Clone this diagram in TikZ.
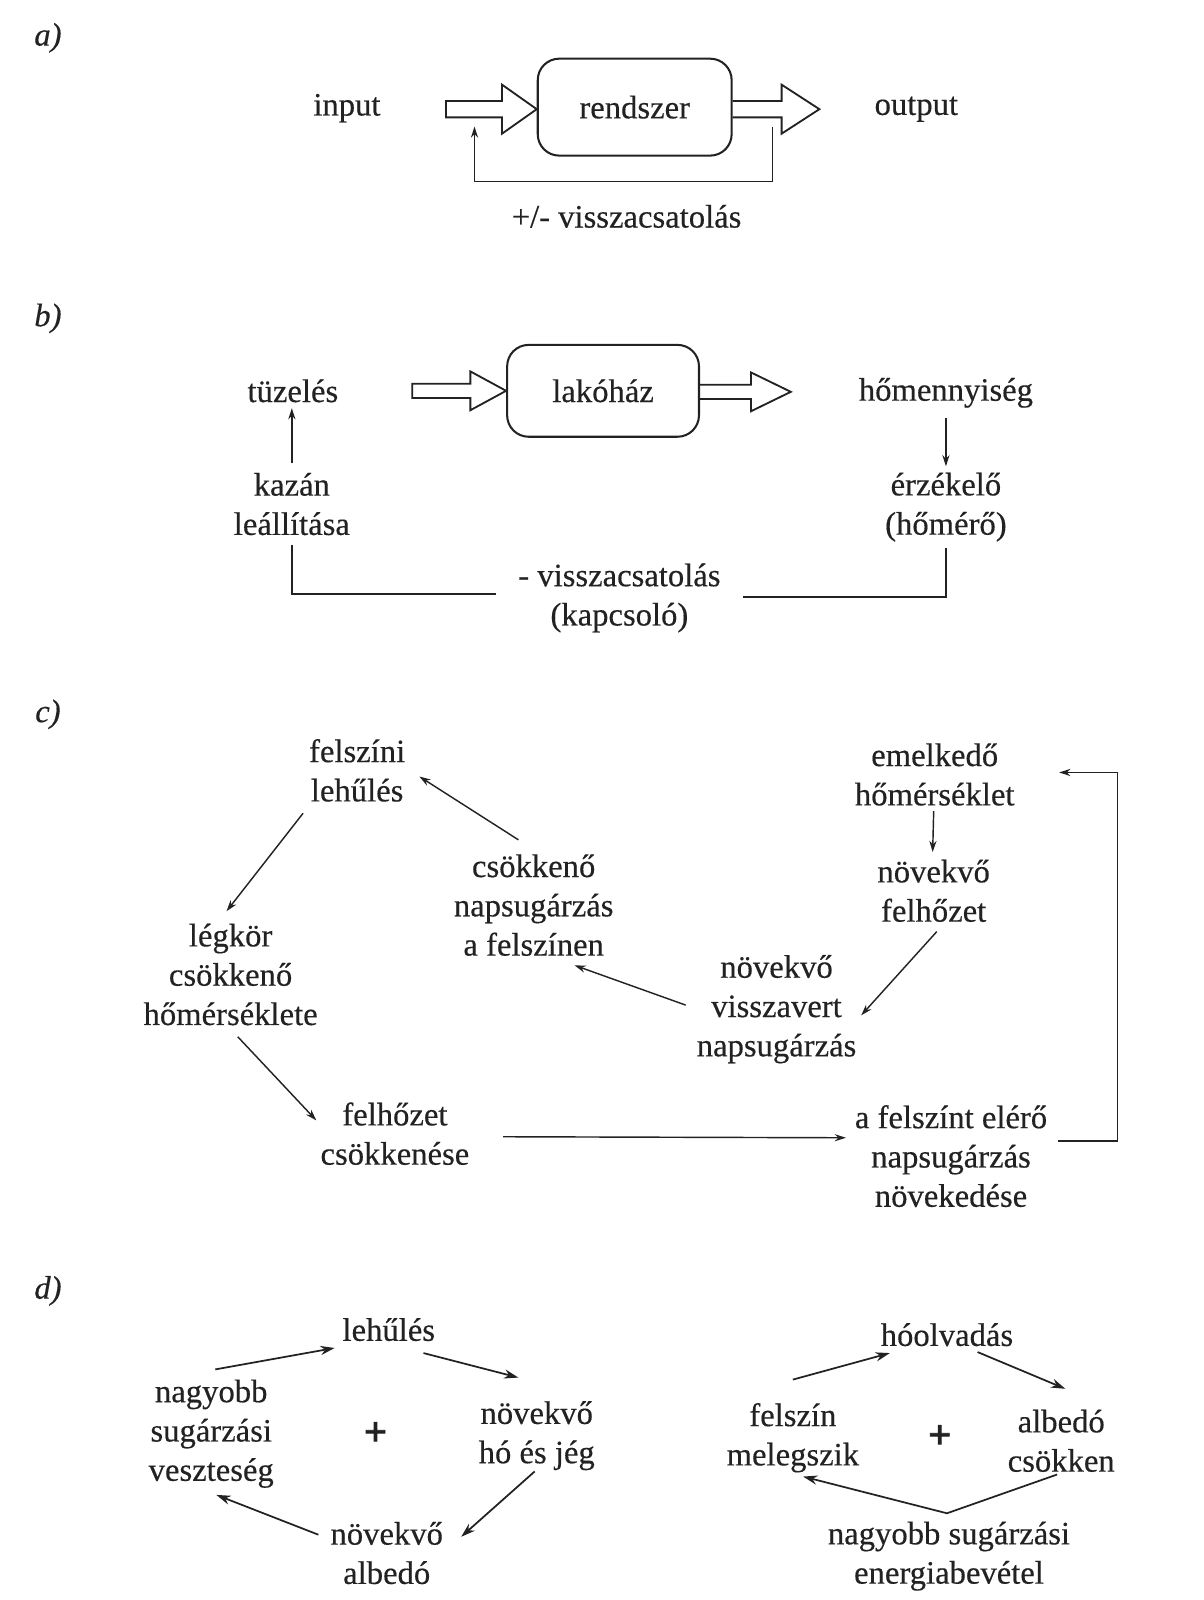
\documentclass[tikz,border=0pt]{standalone}
\usepackage{fontspec}
\setmainfont{Liberation Serif}[FakeBold=0.35]
\newfontfamily\plusfont{Liberation Serif Bold}[FakeBold=2]
\usetikzlibrary{arrows.meta}
\definecolor{ink}{HTML}{222222}
\newcommand{\fsz}{\fontsize{32}{38.5}\selectfont}
\begin{document}
\begin{tikzpicture}[x=1pt,y=-1pt,
  txt/.style={align=center,font=\fsz,inner sep=0pt,text=ink},
  lbl/.style={font=\fsz\itshape,inner sep=0pt,text=ink},
  plus/.style={font=\fontsize{40}{40}\plusfont,inner sep=0pt,text=ink},
  sysbox/.style={draw=ink,line width=2pt,rounded corners=21pt,inner sep=0pt},
  fat/.style={draw=ink,line width=1.8pt,line join=miter},
  arr/.style={draw=ink,line width=1.4pt,-{Stealth[length=11pt,width=7pt]}},
  arrd/.style={draw=ink,line width=1.7pt,-{Stealth[length=14pt,width=9pt]}},
  ln/.style={draw=ink,line width=1.4pt}]
\fill[white] (0,0) rectangle (1179,1568);
\useasboundingbox (0,0) rectangle (1179,1568);
% ---------------- a)
\node[lbl] (la) at (47,37) {a)};
\node[txt] (inp) at (340,106) {input};
\node[sysbox,minimum width=190pt,minimum height=95pt] (rend) at (622,105) {};
\node[txt] (rendt) at (rend.center) {rendszer};
\node[txt] (outp) at (898,107) {output};
\node[txt] (fba) at (614,212) {+/- visszacsatolás};
\draw[fat] (437,99) -- (492,99) -- (492,83) -- (rend.west |- 0,107) -- (492,131) -- (492,115) -- (437,115) -- cycle;
\draw[fat] (rend.east |- 0,99) -- (766,99) -- (766,83) -- (803,107) -- (766,131) -- (766,115) -- (rend.east |- 0,115);
\coordinate (fbR) at (757,124);
\coordinate (fbL) at (465,124);
\draw[arr] (fbR) -- ++(0,54) -| (fbL);
% ---------------- b)
\node[lbl] (lb) at (47,312) {b)};
\node[txt] (tuz) at (287,383) {tüzelés};
\node[sysbox,minimum width=188pt,minimum height=90pt] (lak) at (591,383) {};
\node[txt] (lakt) at (lak.center) {lakóház};
\node[txt] (hom) at (927,385) {hőmennyiség};
\node[txt] (erz) at (927,497) {érzékelő\\(hőmérő)};
\node[txt] (kaz) at (286,494) {kazán\\leállítása};
\node[txt] (fbb) at (607,586) {- visszacsatolás\\(kapcsoló)};
\draw[fat] (404,376) -- (461,376) -- (461,364) -- (lak.west) -- (461,402) -- (461,390) -- (404,390) -- cycle;
\draw[fat] (lak.east |- 0,377) -- (736,377) -- (736,365) -- (775,384) -- (736,403) -- (736,391) -- (lak.east |- 0,391);
\draw[arr] ([shift={(0,-40)}]kaz.center) -- ([shift={(-1,17)}]tuz.center);
\draw[arr] ([shift={(0,25)}]hom.center) -- ([shift={(0,-40)}]erz.center);
\draw[ln] ([shift={(0,40)}]kaz.center) -- ++(0,48) -- ([shift={(-121,-4)}]fbb.center);
\draw[ln] ([shift={(0,40)}]erz.center) -- ++(0,48) -- ([shift={(121,-1)}]fbb.center);
% ---------------- c)
\node[lbl] (lc) at (47,700) {c)};
\node[txt] (n1) at (350,755) {felszíni\\lehűlés};
\node[txt] (n2) at (226,955) {légkör\\csökkenő\\hőmérséklete};
\node[txt] (n3) at (387,1111) {felhőzet\\csökkenése};
\node[txt] (n4) at (932,1133) {a felszínt elérő\\napsugárzás\\növekedése};
\node[txt] (n5) at (916,759) {emelkedő\\hőmérséklet};
\node[txt] (n6) at (915,873) {növekvő\\felhőzet};
\node[txt] (n7) at (761,989) {növekvő\\visszavert\\napsugárzás};
\node[txt] (n8) at (523,887) {csökkenő\\napsugárzás\\a felszínen};
\draw[arr] ([shift={(-53,42)}]n1.center) -- ([shift={(-4,-62)}]n2.center);
\draw[arr] ([shift={(7,61)}]n2.center) -- ([shift={(-77,-13)}]n3.center);
\draw[arr] ([shift={(106,3)}]n3.center) -- ([shift={(-103,-18)}]n4.center);
\draw[arr] ([shift={(105,-15)}]n4.center) -- ++(58,0) |- ([shift={(122,-2)}]n5.center);
\draw[arr] ([shift={(-1,36)}]n5.center) -- ([shift={(-1,-38)}]n6.center);
\draw[arr] ([shift={(3,40)}]n6.center) -- ([shift={(83,6)}]n7.center);
\draw[arr] ([shift={(-89,-4)}]n7.center) -- ([shift={(40,59)}]n8.center);
\draw[arr] ([shift={(-15,-64)}]n8.center) -- ([shift={(61,6)}]n1.center);
% ---------------- d)
\node[lbl] (ld) at (47,1265) {d)};
\node[txt] (d1) at (381,1303) {lehűlés};
\node[txt] (d2) at (207,1405) {nagyobb\\sugárzási\\veszteség};
\node[plus] (d3) at (368,1405) {+};
\node[txt] (d4) at (526,1407) {növekvő\\hó és jég};
\node[txt] (d5) at (379,1522) {növekvő\\albedó};
\draw[arrd] ([shift={(4,-63)}]d2.center) -- ([shift={(-53,18)}]d1.center);
\draw[arrd] ([shift={(34,23)}]d1.center) -- ([shift={(-18,-57)}]d4.center);
\draw[arrd] ([shift={(-2,35)}]d4.center) -- ([shift={(73,-16)}]d5.center);
\draw[arrd] ([shift={(-67,-18)}]d5.center) -- ([shift={(5,60)}]d2.center);
\node[txt] (e1) at (928,1308) {hóolvadás};
\node[txt] (e2) at (777,1409) {felszín\\melegszik};
\node[plus] (e3) at (921,1408) {+};
\node[txt] (e4) at (1040,1412) {albedó\\csökken};
\node[txt] (e5) at (930,1525) {nagyobb sugárzási\\energiabevétel};
\draw[arrd] ([shift={(0,-57)}]e2.center) -- ([shift={(-56,18)}]e1.center);
\draw[arrd] ([shift={(30,17)}]e1.center) -- ([shift={(4,-51)}]e4.center);
\draw[arrd] ([shift={(-4,33)}]e4.center) -- ([shift={(-2,-42)}]e5.center) -- ([shift={(10,38)}]e2.center);
\end{tikzpicture}
\end{document}
